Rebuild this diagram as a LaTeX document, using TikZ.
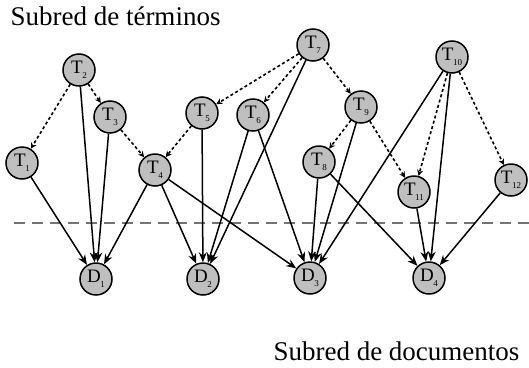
\documentclass[tikz,border=0pt]{standalone}
\usepackage{fontspec}
\setmainfont{Liberation Serif}
\usetikzlibrary{arrows.meta}
\begin{document}
\begin{tikzpicture}[x=1pt,y=-1pt,
  netnode/.style={circle,draw=black,line width=1.5pt,fill=black!25,
    minimum size=32pt,inner sep=0pt},
  link/.style={line width=1.5pt,-{Stealth[length=10pt,width=8pt]}},
  infl/.style={line width=1.6pt,dash pattern=on 3pt off 2.5pt,
    -{Stealth[length=6pt,width=6pt]}},
  title/.style={font=\fontsize{27}{30}\selectfont}]
\useasboundingbox (0,0) rectangle (529,367);
\newcommand{\lbl}[2]{{\fontsize{19}{19}\selectfont #1}\kern-0.5pt\raisebox{-5pt}{\fontsize{9}{9}\selectfont #2}}

% separator between the two subnets
\draw[line width=1.2pt,draw=black!55,dash pattern=on 11pt off 7pt] (14,223) -- (529,223);

% term nodes
\node[netnode] (t1)  at (22,163)  {\lbl{T}{1}};
\node[netnode] (t2)  at (79,70)   {\lbl{T}{2}};
\node[netnode] (t3)  at (110,117) {\lbl{T}{3}};
\node[netnode] (t4)  at (155,170) {\lbl{T}{4}};
\node[netnode] (t5)  at (202,113) {\lbl{T}{5}};
\node[netnode] (t6)  at (253,115) {\lbl{T}{6}};
\node[netnode] (t7)  at (313,45)  {\lbl{T}{7}};
\node[netnode] (t8)  at (319,162) {\lbl{T}{8}};
\node[netnode] (t9)  at (361,107) {\lbl{T}{9}};
\node[netnode] (t10) at (452,57)  {\lbl{T}{10}};
\node[netnode] (t11) at (414,192) {\lbl{T}{11}};
\node[netnode] (t12) at (511,180) {\lbl{T}{12}};

% document nodes
\node[netnode] (d1) at (96,279)  {\lbl{D}{1}};
\node[netnode] (d2) at (203,279) {\lbl{D}{2}};
\node[netnode] (d3) at (310,278) {\lbl{D}{3}};
\node[netnode] (d4) at (429,278) {\lbl{D}{4}};

% relations among terms
\foreach \a/\b in {t2/t1,t2/t3,t3/t4,t5/t4,t7/t5,t7/t6,t7/t9,t9/t8,t9/t11,t10/t11,t10/t12}
  \draw[infl] (\a) -- (\b);

% term to document links
\foreach \a/\b in {t1/d1,t2/d1,t3/d1,t4/d1,t4/d2,t4/d3,t5/d2,t6/d2,t7/d2,t6/d3,
                   t8/d3,t9/d3,t10/d3,t8/d4,t10/d4,t11/d4,t12/d4}
  \draw[link] (\a) -- (\b);

% subnet titles
\node[title,anchor=base west] (tt) at (7,25) {Subred de términos};
\node[title,anchor=base east] (td) at (523,360) {Subred de documentos};
\end{tikzpicture}
\end{document}
